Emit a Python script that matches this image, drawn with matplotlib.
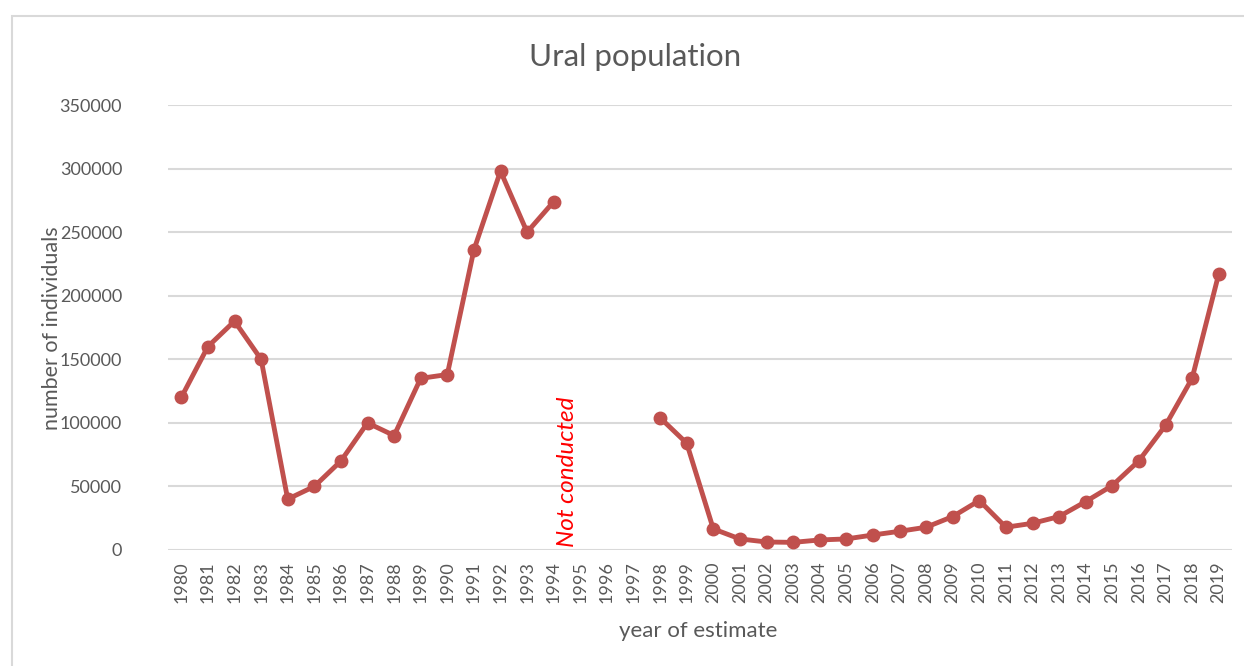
import numpy as np
import matplotlib.pyplot as plt
from matplotlib.patches import Rectangle

years = [str(y) for y in range(1980, 2020)]
# 1995-1997 surveys not conducted -> nan
population = [120000, 160000, 180000, 150000, 40000, 50000, 70000, 100000, 90000, 135000,
              138000, 236000, 298000, 250000, 274000, np.nan, np.nan, np.nan, 104000, 84000,
              16600, 8700, 6300, 6000, 7900, 8700, 11800, 14700, 17900, 26300,
              38900, 17900, 21000, 26300, 38100, 50700, 70200, 98000, 135000, 217000]
yticks = [0, 50000, 100000, 150000, 200000, 250000, 300000, 350000]

plt.rcParams['font.family'] = ['Lato', 'DejaVu Sans']
grey = '#595959'
red = '#C0504D'

fig = plt.figure(figsize=(12.44, 6.66), dpi=100)
fig.patches.append(Rectangle((12 / 1244, -0.1), 1.2, 1 - 16 / 666 + 0.1,
                             transform=fig.transFigure, fill=False,
                             edgecolor='#D9D9D9', linewidth=1.5))

ax = fig.add_axes([168 / 1244, 1 - 550 / 666, (1232 - 168) / 1244, (550 - 105) / 666])
x = np.arange(len(years))
ax.plot(x, population, color=red, linewidth=3.5, marker='o', markersize=9,
        solid_capstyle='round', zorder=3)

ax.set_xlim(-0.5, len(years) - 0.5)
ax.set_ylim(0, 350000)
ax.set_yticks(yticks)
ax.set_yticklabels([str(v) for v in yticks])
ax.set_xticks(x)
ax.set_xticklabels(years, rotation=90)
ax.tick_params(axis='both', length=0, colors=grey, labelsize=13)
ax.tick_params(axis='y', pad=33)
ax.tick_params(axis='x', pad=8)
ax.grid(axis='y', color='#D9D9D9', linewidth=1.5)
ax.set_axisbelow(True)
for s in ax.spines.values():
    s.set_visible(False)

ax.text(14.5, 2000, 'Not conducted', rotation=90, color='red', style='italic',
        fontsize=17.5, ha='center', va='bottom')

fig.text(635 / 1244, 1 - 57 / 666, 'Ural population', ha='center', va='center',
         fontsize=22.5, color=grey)
fig.text(52 / 1244, 1 - 328 / 666, 'number of individuals', rotation=90,
         ha='center', va='center', fontsize=15.5, color=grey)
fig.text(698 / 1244, 1 - 631 / 666, 'year of estimate', ha='center', va='center',
         fontsize=16, color=grey)

fig.savefig('out.png', dpi=100)
